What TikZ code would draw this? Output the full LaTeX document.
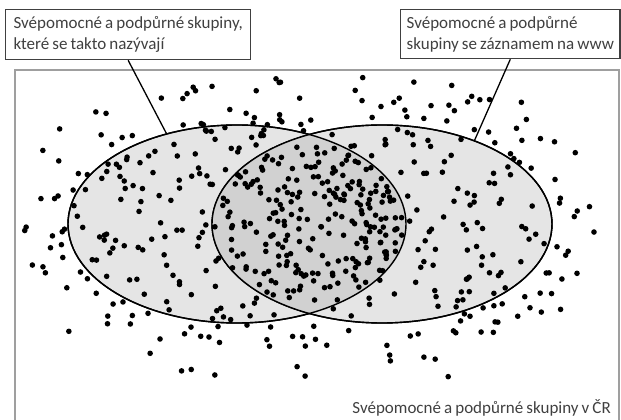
\documentclass[tikz,border=0pt]{standalone}
\usepackage{fontspec}
\setmainfont{Carlito}[WordSpace=0.8]
\usetikzlibrary{shapes.geometric}
\definecolor{setgray}{gray}{0.90}
\definecolor{lensgray}{gray}{0.82}
\definecolor{txtgray}{gray}{0.25}
\begin{document}
\begin{tikzpicture}[
    x=1pt, y=1pt,
    setshape/.style={ellipse, draw, line width=1.4pt, inner sep=0pt, outer sep=0pt, minimum height=198pt},
    labbox/.style={draw=black!75, line width=1.3pt, fill=white, anchor=north west, align=left, inner xsep=6pt, inner ysep=4pt, font=\fontsize{17}{21}\selectfont, text=txtgray, execute at begin node={\rule{0pt}{17pt}}},
    leader/.style={line width=1.3pt},
    dot/.style={fill=black}
]
\useasboundingbox (0,0) rectangle (621,420);
\pgfmathsetseed{4711}

% Frame
\draw[gray!75, line width=1.5pt] (15,350) rectangle (619,-3);

% Sets
\node[setshape, fill=setgray, minimum width=338pt] (leftset) at (237,196) {};
\node[setshape, fill=setgray, minimum width=340pt] (rightset) at (382,196) {};
\begin{scope}
  \clip (237,196) ellipse [x radius=169, y radius=99];
  \fill[lensgray] (382,196) ellipse [x radius=170, y radius=99];
\end{scope}
\draw[line width=1.4pt] (237,196) ellipse [x radius=169, y radius=99];
\draw[line width=1.4pt] (382,196) ellipse [x radius=170, y radius=99];

% Dots in both sets
\foreach \i in {1,...,350}{
  \pgfmathsetmacro\px{213+193*rnd}
  \pgfmathsetmacro\py{107+178*rnd}
  \pgfmathsetmacro\dl{((\px-237)/169)^2+((\py-196)/99)^2}
  \pgfmathsetmacro\dr{((\px-382)/170)^2+((\py-196)/99)^2}
  \pgfmathparse{and(\dl<0.97,\dr<0.97)}
  \ifdim\pgfmathresult pt>0.5pt \fill[dot] (\px,\py) circle[radius=2.8pt]; \fi
}

% Dots in one set only
\foreach \i in {1,...,220}{
  \pgfmathsetmacro\px{68+338*rnd}
  \pgfmathsetmacro\py{97+198*rnd}
  \pgfmathsetmacro\dl{((\px-237)/169)^2+((\py-196)/99)^2}
  \pgfmathsetmacro\dr{((\px-382)/170)^2+((\py-196)/99)^2}
  \pgfmathparse{and(\dl<0.97,\dr>1.03)}
  \ifdim\pgfmathresult pt>0.5pt \fill[dot] (\px,\py) circle[radius=2.8pt]; \fi
}
\foreach \i in {1,...,210}{
  \pgfmathsetmacro\px{212+340*rnd}
  \pgfmathsetmacro\py{97+198*rnd}
  \pgfmathsetmacro\dl{((\px-237)/169)^2+((\py-196)/99)^2}
  \pgfmathsetmacro\dr{((\px-382)/170)^2+((\py-196)/99)^2}
  \pgfmathparse{and(\dr<0.97,\dl>1.03)}
  \ifdim\pgfmathresult pt>0.5pt \fill[dot] (\px,\py) circle[radius=2.8pt]; \fi
}

% Dots outside the sets
\foreach \i in {1,...,760}{
  \pgfmathsetmacro\px{22+590*rnd}
  \pgfmathsetmacro\py{25+318*rnd}
  \pgfmathsetmacro\t{rnd}
  \pgfmathsetmacro\dl{((\px-237)/169)^2+((\py-196)/99)^2}
  \pgfmathsetmacro\dr{((\px-382)/170)^2+((\py-196)/99)^2}
  \pgfmathsetmacro\el{((\px-237)/(169+60*\t))^2+((\py-196)/(99+72*\t))^2}
  \pgfmathsetmacro\er{((\px-382)/(170+60*\t))^2+((\py-196)/(99+72*\t))^2}
  \pgfmathparse{and(and(\dl>1.03,\dr>1.03),or(\el<1,\er<1))}
  \ifdim\pgfmathresult pt>0.5pt \fill[dot] (\px,\py) circle[radius=2.8pt]; \fi
}

% Labels
\node[labbox, minimum width=245pt, minimum height=50pt] (labA) at (5,411) {Svépomocné a podpůrné skupiny,\\které se takto nazývají};
\node[labbox, minimum width=219pt, minimum height=49pt] (labB) at (400,411) {Svépomocné a podpůrné\\skupiny se záznamem na www};
\node[anchor=base east, inner sep=0pt, text=txtgray, font=\fontsize{17}{21}\selectfont] (labC) at (611,6) {Svépomocné a podpůrné skupiny v ČR};

% Leaders
\draw[leader] (labA.south) -- (leftset.128);
\draw[leader] (labB.south) -- (rightset.42);

\end{tikzpicture}
\end{document}
